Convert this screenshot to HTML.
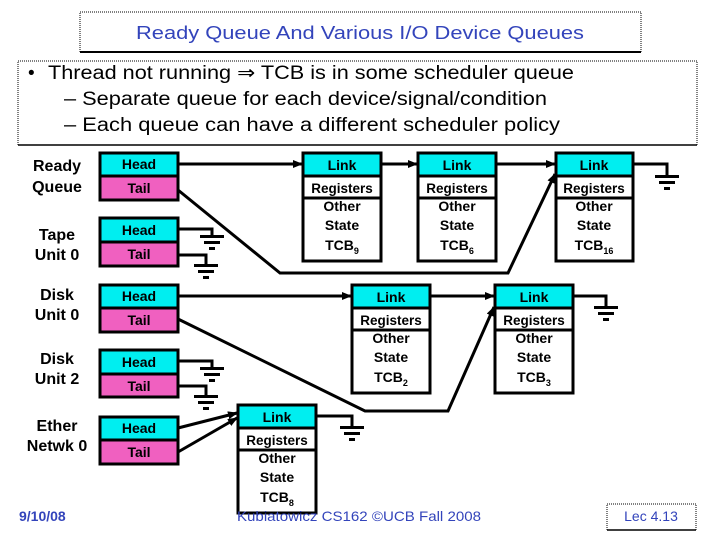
<!DOCTYPE html>
<html><head><meta charset="utf-8"><style>
html,body{margin:0;padding:0;background:#fff;width:720px;height:540px;overflow:hidden}
svg{display:block}
text{font-family:"Liberation Sans",sans-serif}
</style></head><body>
<svg width="720" height="540" viewBox="0 0 720 540" xmlns="http://www.w3.org/2000/svg">
<defs>
<marker id="ar" markerWidth="10" markerHeight="8" refX="9" refY="4" orient="auto" markerUnits="userSpaceOnUse">
<path d="M0,0 L10,4 L0,8 z" fill="#000"/></marker>
</defs>
<rect x="80" y="12" width="561" height="40" fill="#fff" stroke="#000" stroke-width="1" stroke-dasharray="1,1"/>
<line x1="80" y1="52" x2="641" y2="52" stroke="#000" stroke-width="2"/>
<text x="136" y="39" font-size="18" fill="#3344bb" textLength="448" lengthAdjust="spacingAndGlyphs">Ready Queue And Various I/O Device Queues</text>
<rect x="18" y="61" width="679" height="84" fill="#fff" stroke="#000" stroke-width="1" stroke-dasharray="1,1"/>
<line x1="18" y1="145" x2="697" y2="145" stroke="#000" stroke-width="1.5"/>
<g font-size="19" fill="#000">
<text x="28" y="79">•</text>
<text x="48" y="79" textLength="526" lengthAdjust="spacingAndGlyphs">Thread not running ⇒ TCB is in some scheduler queue</text>
<text x="64" y="105" textLength="483" lengthAdjust="spacingAndGlyphs">– Separate queue for each device/signal/condition</text>
<text x="64" y="131" textLength="496" lengthAdjust="spacingAndGlyphs">– Each queue can have a different scheduler policy</text>
</g>
<g font-size="16" font-weight="bold" text-anchor="middle" fill="#000">
<text x="57" y="171">Ready</text><text x="57" y="192">Queue</text>
<text x="57" y="240">Tape</text><text x="57" y="260">Unit 0</text>
<text x="57" y="300">Disk</text><text x="57" y="320">Unit 0</text>
<text x="57" y="364">Disk</text><text x="57" y="384">Unit 2</text>
<text x="57" y="431">Ether</text><text x="57" y="451">Netwk 0</text>
</g>
<g stroke="#000" stroke-width="3" font-size="14" font-weight="bold" text-anchor="middle">
<rect x="100" y="153" width="78" height="23" fill="#00eef0"/><rect x="100" y="176" width="78" height="24" fill="#f060c0"/>
<rect x="100" y="218" width="78" height="24" fill="#00eef0"/><rect x="100" y="242" width="78" height="24" fill="#f060c0"/>
<rect x="100" y="285" width="78" height="23" fill="#00eef0"/><rect x="100" y="308" width="78" height="24" fill="#f060c0"/>
<rect x="100" y="350" width="78" height="24" fill="#00eef0"/><rect x="100" y="374" width="78" height="23" fill="#f060c0"/>
<rect x="100" y="417" width="78" height="23" fill="#00eef0"/><rect x="100" y="440" width="78" height="24" fill="#f060c0"/>
</g>
<g font-size="14" font-weight="bold" text-anchor="middle" fill="#000">
<text x="139" y="169">Head</text><text x="139" y="193">Tail</text>
<text x="139" y="235">Head</text><text x="139" y="259">Tail</text>
<text x="139" y="301">Head</text><text x="139" y="325">Tail</text>
<text x="139" y="367">Head</text><text x="139" y="391">Tail</text>
<text x="139" y="433">Head</text><text x="139" y="457">Tail</text>
</g>
<g stroke="#000" stroke-width="3" fill="#fff">
<rect x="303" y="153" width="78" height="108"/><rect x="303" y="153" width="78" height="23" fill="#00eef0"/><rect x="303" y="176" width="78" height="22"/>
<rect x="418" y="153" width="78" height="108"/><rect x="418" y="153" width="78" height="23" fill="#00eef0"/><rect x="418" y="176" width="78" height="22"/>
<rect x="556" y="153" width="77" height="108"/><rect x="556" y="153" width="77" height="23" fill="#00eef0"/><rect x="556" y="176" width="77" height="22"/>
<rect x="352" y="285" width="78" height="108"/><rect x="352" y="285" width="78" height="23" fill="#00eef0"/><rect x="352" y="308" width="78" height="22"/>
<rect x="495" y="285" width="78" height="108"/><rect x="495" y="285" width="78" height="23" fill="#00eef0"/><rect x="495" y="308" width="78" height="22"/>
<rect x="238" y="405" width="78" height="108"/><rect x="238" y="405" width="78" height="23" fill="#00eef0"/><rect x="238" y="428" width="78" height="22"/>
</g>
<g font-size="14" font-weight="bold" text-anchor="middle" fill="#000">
<text x="342" y="170">Link</text><text x="342" y="193" font-size="13.5">Registers</text><text x="342" y="211">Other</text><text x="342" y="230">State</text><text x="342" y="250">TCB<tspan font-size="9" dy="4">9</tspan></text>
<text x="457" y="170">Link</text><text x="457" y="193" font-size="13.5">Registers</text><text x="457" y="211">Other</text><text x="457" y="230">State</text><text x="457" y="250">TCB<tspan font-size="9" dy="4">6</tspan></text>
<text x="594" y="170">Link</text><text x="594" y="193" font-size="13.5">Registers</text><text x="594" y="211">Other</text><text x="594" y="230">State</text><text x="594" y="250">TCB<tspan font-size="9" dy="4">16</tspan></text>
<text x="391" y="302">Link</text><text x="391" y="325" font-size="13.5">Registers</text><text x="391" y="343">Other</text><text x="391" y="362">State</text><text x="391" y="382">TCB<tspan font-size="9" dy="4">2</tspan></text>
<text x="534" y="302">Link</text><text x="534" y="325" font-size="13.5">Registers</text><text x="534" y="343">Other</text><text x="534" y="362">State</text><text x="534" y="382">TCB<tspan font-size="9" dy="4">3</tspan></text>
<text x="277" y="422">Link</text><text x="277" y="445" font-size="13.5">Registers</text><text x="277" y="463">Other</text><text x="277" y="482">State</text><text x="277" y="502">TCB<tspan font-size="9" dy="4">8</tspan></text>
</g>
<g stroke="#000" stroke-width="3" fill="none">
<line x1="178" y1="164" x2="302" y2="164" marker-end="url(#ar)"/>
<line x1="381" y1="164" x2="417" y2="164" marker-end="url(#ar)"/>
<line x1="496" y1="164" x2="555" y2="164" marker-end="url(#ar)"/>
<polyline points="178,190 280,273 508,273 555,174" marker-end="url(#ar)"/>
<line x1="178" y1="296" x2="351" y2="296" marker-end="url(#ar)"/>
<line x1="430" y1="296" x2="494" y2="296" marker-end="url(#ar)"/>
<polyline points="178,319 365,411 448,411 494,307" marker-end="url(#ar)"/>
<line x1="178" y1="428" x2="237" y2="413" marker-end="url(#ar)"/>
<line x1="178" y1="452" x2="237" y2="418" marker-end="url(#ar)"/>
<polyline points="633,164 667,164 667,176"/>
<polyline points="573,296 606,296 606,307"/>
<polyline points="316,416 352,416 352,427"/>
<polyline points="178,229 212,229 212,236"/>
<polyline points="178,255 206,255 206,265"/>
<polyline points="178,361 212,361 212,368"/>
<polyline points="178,386 206,386 206,396"/>
</g>
<g fill="#000">
<rect x="655" y="175" width="24" height="3"/><rect x="659" y="181" width="16" height="3"/><rect x="664" y="187" width="6" height="3"/>
<rect x="594" y="306" width="24" height="3"/><rect x="598" y="312" width="16" height="3"/><rect x="603" y="318" width="6" height="3"/>
<rect x="340" y="426" width="24" height="3"/><rect x="344" y="432" width="16" height="3"/><rect x="349" y="438" width="6" height="3"/>
<rect x="200" y="235" width="24" height="3"/><rect x="204" y="241" width="16" height="3"/><rect x="209" y="247" width="6" height="3"/>
<rect x="194" y="264" width="24" height="3"/><rect x="198" y="270" width="16" height="3"/><rect x="203" y="276" width="6" height="3"/>
<rect x="200" y="367" width="24" height="3"/><rect x="204" y="373" width="16" height="3"/><rect x="209" y="379" width="6" height="3"/>
<rect x="194" y="395" width="24" height="3"/><rect x="198" y="401" width="16" height="3"/><rect x="203" y="407" width="6" height="3"/>
</g>
<text x="19" y="521" font-size="14" font-weight="bold" fill="#3344bb">9/10/08</text>
<text x="237" y="521" font-size="14" fill="#3344bb" textLength="244" lengthAdjust="spacingAndGlyphs">Kubiatowicz CS162 ©UCB Fall 2008</text>
<rect x="607" y="504" width="89" height="26" fill="#fff" stroke="#000" stroke-width="1" stroke-dasharray="1,1"/>
<line x1="607" y1="530" x2="696" y2="530" stroke="#000" stroke-width="1.5"/>
<text x="651" y="521" font-size="14" fill="#3344bb" text-anchor="middle">Lec 4.13</text>
</svg>
</body></html>
